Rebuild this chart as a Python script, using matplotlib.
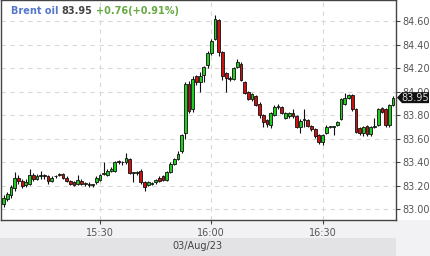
import matplotlib
matplotlib.use("Agg")
import matplotlib.pyplot as plt
from matplotlib.patches import Polygon, Rectangle

# minutes after 15:00 for each 1-minute candle (15:04 .. 16:49)
minutes = list(range(4, 110))
opens = [83.05, 83.09, 83.12, 83.18, 83.27, 83.24, 83.21, 83.22, 83.29, 83.26,
         83.28, 83.29, 83.28, 83.24, 83.28, 83.29, 83.30, 83.27, 83.24, 83.23,
         83.22, 83.24, 83.22, 83.22, 83.21, 83.23, 83.25, 83.30, 83.29, 83.33,
         83.33, 83.41, 83.40, 83.40, 83.43, 83.31, 83.31, 83.33, 83.23, 83.21,
         83.22, 83.23, 83.27, 83.28, 83.25, 83.32, 83.39, 83.43, 83.50, 83.65,
         84.07, 83.85, 84.13, 84.08, 84.14, 84.23, 84.33, 84.45, 84.61, 84.34,
         84.16, 84.12, 84.11, 84.21, 84.24, 84.08, 84.00, 83.94, 83.96, 83.90,
         83.80, 83.76, 83.72, 83.80, 83.87, 83.87, 83.78, 83.79, 83.82, 83.79,
         83.70, 83.76, 83.76, 83.71, 83.68, 83.63, 83.57, 83.65, 83.70, 83.70,
         83.72, 83.77, 83.90, 83.95, 83.97, 83.85, 83.69, 83.65, 83.71, 83.64,
         83.70, 83.72, 83.86, 83.85, 83.72, 83.89]
highs = [83.12, 83.15, 83.21, 83.32, 83.29, 83.26, 83.26, 83.34, 83.31, 83.30,
         83.33, 83.30, 83.29, 83.28, 83.29, 83.31, 83.31, 83.28, 83.25, 83.24,
         83.29, 83.26, 83.23, 83.23, 83.22, 83.28, 83.30, 83.40, 83.34, 83.36,
         83.41, 83.42, 83.41, 83.48, 83.44, 83.32, 83.33, 83.34, 83.24, 83.24,
         83.23, 83.26, 83.28, 83.29, 83.33, 83.40, 83.44, 83.50, 83.64, 84.08,
         84.09, 84.13, 84.14, 84.17, 84.22, 84.35, 84.45, 84.65, 84.62, 84.35,
         84.17, 84.13, 84.21, 84.28, 84.25, 84.09, 84.01, 83.99, 83.97, 83.91,
         83.81, 83.77, 83.83, 83.89, 83.90, 83.88, 83.83, 83.83, 83.85, 83.80,
         83.77, 83.85, 83.77, 83.72, 83.69, 83.64, 83.64, 83.72, 83.71, 83.71,
         83.75, 83.95, 83.99, 83.98, 83.98, 83.86, 83.70, 83.71, 83.72, 83.71,
         83.78, 83.86, 83.87, 83.86, 83.90, 83.96]
lows = [83.02, 83.07, 83.10, 83.16, 83.22, 83.18, 83.19, 83.21, 83.24, 83.25,
        83.26, 83.26, 83.22, 83.23, 83.27, 83.28, 83.26, 83.23, 83.21, 83.20,
        83.21, 83.21, 83.20, 83.19, 83.19, 83.22, 83.24, 83.29, 83.28, 83.32,
        83.32, 83.39, 83.38, 83.39, 83.30, 83.23, 83.29, 83.22, 83.16, 83.20,
        83.21, 83.22, 83.23, 83.24, 83.24, 83.31, 83.38, 83.42, 83.48, 83.60,
        83.82, 83.83, 84.06, 84.00, 84.08, 84.20, 84.31, 84.44, 84.30, 84.10,
        84.00, 84.09, 84.10, 84.20, 84.09, 83.98, 83.93, 83.92, 83.88, 83.78,
        83.70, 83.70, 83.69, 83.79, 83.85, 83.81, 83.77, 83.78, 83.78, 83.69,
        83.65, 83.70, 83.70, 83.67, 83.61, 83.56, 83.55, 83.64, 83.69, 83.63,
        83.71, 83.76, 83.89, 83.94, 83.84, 83.65, 83.63, 83.62, 83.62, 83.62,
        83.69, 83.71, 83.82, 83.70, 83.70, 83.88]
closes = [83.10, 83.13, 83.19, 83.27, 83.24, 83.20, 83.23, 83.29, 83.26, 83.28,
          83.29, 83.28, 83.24, 83.27, 83.28, 83.30, 83.27, 83.24, 83.22, 83.21,
          83.25, 83.22, 83.22, 83.21, 83.21, 83.27, 83.29, 83.30, 83.33, 83.34,
          83.40, 83.40, 83.40, 83.44, 83.31, 83.31, 83.31, 83.23, 83.19, 83.23,
          83.22, 83.25, 83.24, 83.25, 83.32, 83.39, 83.43, 83.47, 83.63, 84.07,
          83.84, 84.11, 84.08, 84.13, 84.21, 84.33, 84.43, 84.62, 84.34, 84.13,
          84.12, 84.11, 84.20, 84.25, 84.10, 83.99, 83.94, 83.98, 83.89, 83.80,
          83.74, 83.73, 83.82, 83.87, 83.87, 83.82, 83.82, 83.82, 83.79, 83.70,
          83.75, 83.76, 83.71, 83.68, 83.62, 83.57, 83.63, 83.70, 83.70, 83.70,
          83.74, 83.94, 83.95, 83.97, 83.85, 83.66, 83.65, 83.70, 83.64, 83.70,
          83.70, 83.85, 83.83, 83.72, 83.89, 83.95]

y_ticks = [83.00, 83.20, 83.40, 83.60, 83.80, 84.00, 84.20, 84.40, 84.60]
x_ticks = [30, 60, 90]
x_tick_labels = ["15:30", "16:00", "16:30"]
title_name = "Brent oil"
title_price = "83.95"
title_change = "+0.76(+0.91%)"
date_label = "03/Aug/23"

W, H = 430, 256
fig = plt.figure(figsize=(W / 100, H / 100), dpi=100, facecolor="white")

def fx(px):
    return px / W

def fy(py):
    return 1 - py / H

# bottom gray areas (behind the axes)
fig.add_artist(Rectangle((0, 0), 1, fy(220), transform=fig.transFigure,
                         facecolor="#f2f2f4", edgecolor="none", zorder=-2))
fig.add_artist(Rectangle((0, 0), fx(396), fy(238), transform=fig.transFigure,
                         facecolor="#e3e3e5", edgecolor="none", zorder=-1))

ax = fig.add_axes([fx(1), fy(220), fx(396) - fx(1), fy(0) - fy(220)])
ax.set_facecolor("white")
ax.set_xlim(3.3, 109.8)
ax.set_ylim(82.91, 84.78)

green = "#22cc22"
red = "#cc1111"
bw = 0.75
for m, o, h, l, c in zip(minutes, opens, highs, lows, closes):
    ax.vlines(m, l, h, color="#111111", linewidth=0.8, zorder=2)
    bottom = min(o, c)
    height = max(abs(c - o), 0.006)
    col = green if c >= o else red
    ax.bar(m, height, bottom=bottom, width=bw, color=col,
           edgecolor="#111111", linewidth=0.6, zorder=3)

ax.yaxis.tick_right()
ax.set_yticks(y_ticks)
ax.set_yticklabels([f"{v:.2f}" for v in y_ticks])
ax.set_xticks(x_ticks)
ax.set_xticklabels(x_tick_labels)
ax.tick_params(axis="both", colors="#444444", labelcolor="#555555",
               labelsize=7, length=3, width=0.8, pad=1.5)
ax.tick_params(axis="x", pad=3)
ax.grid(True, color="#d8d8d8", linestyle=(0, (4, 4)), linewidth=0.8)
ax.set_axisbelow(True)
for side in ["left", "bottom", "right", "top"]:
    ax.spines[side].set_color("#444444")
    ax.spines[side].set_linewidth(1.0)

# title
fig.text(fx(11), fy(11), title_name, color="#5577cc", fontsize=7.0,
         fontweight="bold", va="center", ha="left")
fig.text(fx(61), fy(11), title_price, color="#444444", fontsize=7.0,
         fontweight="bold", va="center", ha="left")
fig.text(fx(96), fy(11), title_change, color="#66aa44", fontsize=7.0,
         fontweight="bold", va="center", ha="left")

# date label
fig.text(fx(197), fy(246), date_label, color="#444444", fontsize=7,
         va="center", ha="center")

# last price marker
fig.canvas.draw()
ypix = ax.transData.transform((0, closes[-1]))[1]
yf = ypix / H
hh = 5.5 / H
pts = [(fx(397), yf), (fx(402), yf + hh), (fx(429), yf + hh),
       (fx(429), yf - hh), (fx(402), yf - hh)]
fig.add_artist(Polygon(pts, closed=True, transform=fig.transFigure,
                       facecolor="#111111", edgecolor="none", zorder=5))
fig.text(fx(415.5), yf, f"{closes[-1]:.2f}", color="#dddddd", fontsize=7,
         va="center", ha="center", zorder=6)

fig.savefig("out.png", dpi=100, facecolor=fig.get_facecolor())
